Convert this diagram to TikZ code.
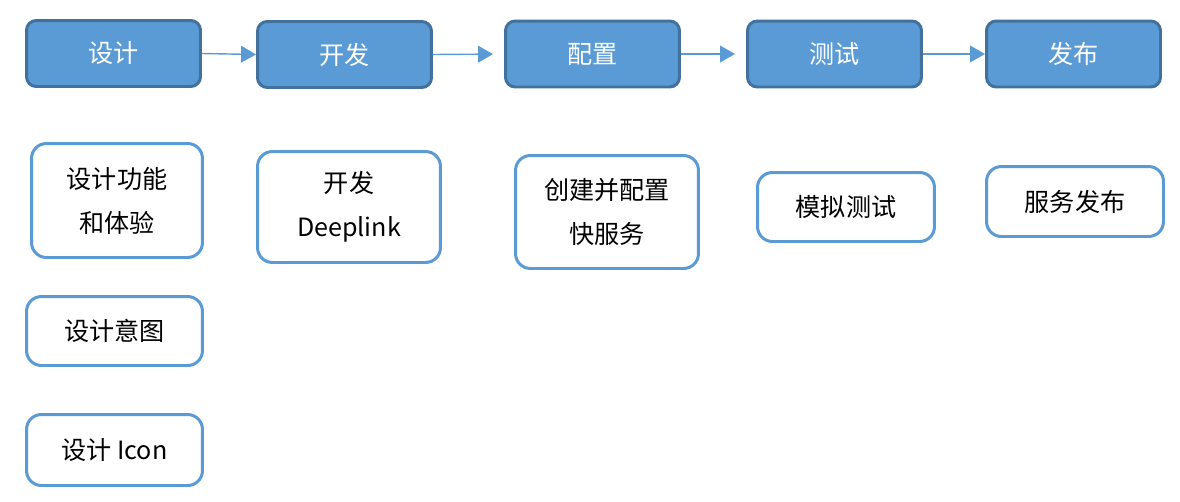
\documentclass[tikz,border=0pt]{standalone}
\usepackage{fontspec}
\setmainfont{Noto Sans CJK SC}
\usepackage{tikz}
\usetikzlibrary{arrows.meta,positioning}
\definecolor{phasefill}{HTML}{5B9BD5}
\definecolor{phaseedge}{HTML}{41719C}
\tikzset{>={Triangle[length=8.5pt,width=9.5pt]}}
\tikzset{
  phase/.style={draw=phaseedge,line width=1.7pt,fill=phasefill,text=white,
    rounded corners=5.5pt,minimum width=3.48cm,minimum height=1.32cm,
    font=\fontsize{14.3}{19}\selectfont},
  task/.style={draw=phasefill,line width=1.7pt,fill=white,text=black,
    rounded corners=8.5pt,align=center,inner sep=0pt,
    font=\fontsize{14.3}{25}\selectfont},
  flow/.style={->,phasefill,line width=0.8pt}
}

\begin{document}
\begin{tikzpicture}[x=0.02cm,y=-0.02cm]
\useasboundingbox (0,0) rectangle (1180,501);

% Phases
\node[phase] (design)  at (113.5,53.5) {设计};
\node[phase] (develop) at (344.5,54.5) {开发};
\node[phase] (config)  at (592.5,54)   {配置};
\node[phase] (testing) at (834.5,54)   {测试};
\node[phase] (release) at (1073.5,54)  {发布};

% Flow
\draw[flow] (design.east) -- (develop.west);
\draw[flow,shorten >=0.22cm] (develop.east) -- (config.west);
\draw[flow,shorten >=0.22cm] (config.east) -- (testing.west);
\draw[flow] (testing.east) -- (release.west);

% Tasks
\node[task,minimum width=3.42cm,minimum height=2.28cm] (feature) at (117,200.5) {设计功能\\和体验};
\node[task,minimum width=3.66cm,minimum height=2.22cm] (deeplink) at (349,207) {开发\\Deeplink};
\node[task,minimum width=3.66cm,minimum height=2.26cm] (service) at (607,212) {创建并配置\\快服务};
\node[task,minimum width=3.54cm,minimum height=1.38cm] (simulate) at (846,207) {模拟测试};
\node[task,minimum width=3.54cm,minimum height=1.40cm] (publish) at (1075,201.5) {服务发布};
\node[task,minimum width=3.52cm,minimum height=1.38cm] (intent) at (114.5,331) {设计意图};
\node[task,minimum width=3.52cm,minimum height=1.42cm] (icon) at (114.5,450) {设计 Icon};

\end{tikzpicture}
\end{document}
